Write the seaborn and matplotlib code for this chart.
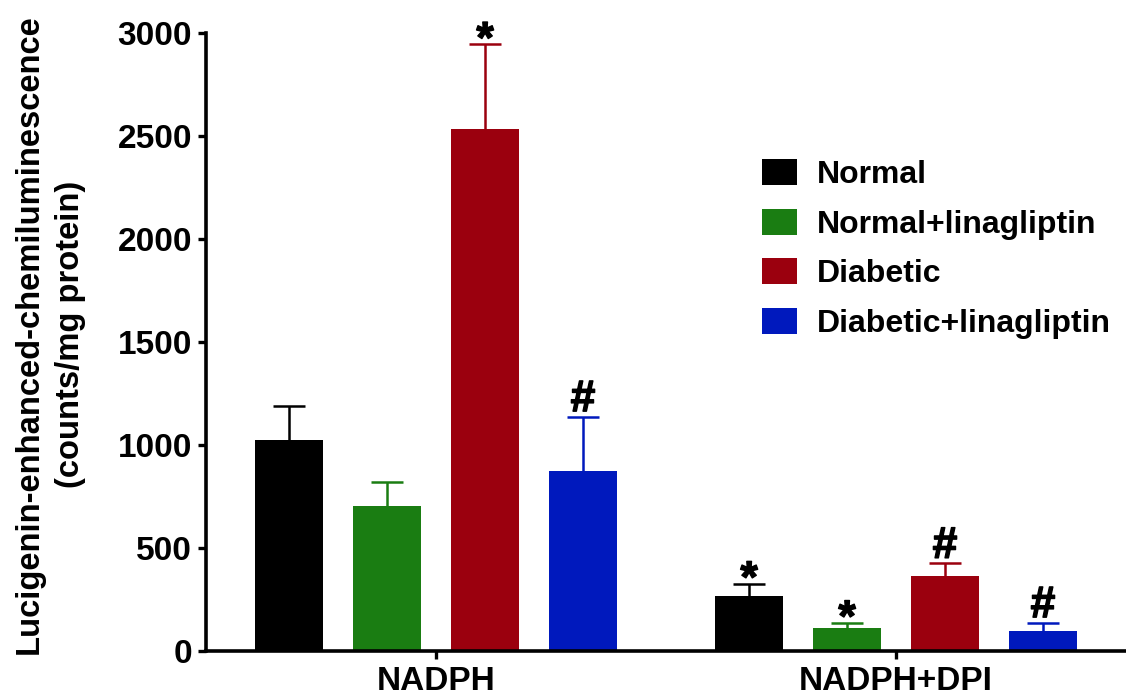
import numpy as np
import pandas as pd
import matplotlib
matplotlib.use("Agg")
import matplotlib.pyplot as plt
import matplotlib.patheffects as pe
import seaborn as sns

# data
conditions = ["NADPH", "NADPH+DPI"]
groups = ["Normal", "Normal+linagliptin", "Diabetic", "Diabetic+linagliptin"]
means = {
    "Normal": [1025, 265],
    "Normal+linagliptin": [705, 112],
    "Diabetic": [2535, 365],
    "Diabetic+linagliptin": [875, 95],
}
errors = {
    "Normal": [165, 62],
    "Normal+linagliptin": [115, 25],
    "Diabetic": [410, 60],
    "Diabetic+linagliptin": [262, 42],
}
marks = {
    "Normal": ["", "*"],
    "Normal+linagliptin": ["", "*"],
    "Diabetic": ["*", "#"],
    "Diabetic+linagliptin": ["#", "#"],
}
colors = ["#000000", "#1a7d12", "#9b000e", "#0019bd"]

rows = []
for g in groups:
    for c, v in zip(conditions, means[g]):
        rows.append({"condition": c, "group": g, "value": v})
df = pd.DataFrame(rows)

sns.set_style("ticks")
plt.rcParams["font.family"] = ["Liberation Sans", "DejaVu Sans"]
plt.rcParams["font.weight"] = "bold"
for k in ["text.color", "axes.labelcolor", "xtick.color", "ytick.color",
          "axes.edgecolor"]:
    plt.rcParams[k] = "black"

fig = plt.figure(figsize=(11.26, 6.96), dpi=100)
ax = fig.add_axes([0.183, 0.0647, 0.817, 0.888])

sns.barplot(data=df, x="condition", y="value", hue="group", order=conditions,
            hue_order=groups, palette=colors, saturation=1, width=0.852,
            gap=0.3, errorbar=None, linewidth=0, ax=ax)

# one-sided error bars + significance marks
for g, col, cont in zip(groups, colors, ax.containers):
    xs = [b.get_x() + b.get_width() / 2 for b in cont]
    ys = [b.get_height() for b in cont]
    err = errors[g]
    eb = ax.errorbar(xs, ys, yerr=[np.zeros(len(err)), err], fmt="none",
                     ecolor=col, elinewidth=1.8, capsize=11.5, capthick=1.8,
                     clip_on=False)
    eb[1][0].set_visible(False)  # no cap at the bar top
    for x, y, e, m in zip(xs, ys, err, marks[g]):
        if not m:
            continue
        off = -6 if m == "*" else 4
        ax.annotate(m, (x, y + e), xytext=(0, off), textcoords="offset points",
                    ha="center", va="baseline", fontsize=32,
                    fontweight="bold", annotation_clip=False,
                    path_effects=[pe.withStroke(linewidth=1.0, foreground="black")])

ax.set_xlim(-0.5, 1.5)
ax.set_ylim(0, 3000)
ax.set_yticks(range(0, 3001, 500))
ax.set_xlabel("")
ax.set_ylabel("Lucigenin-enhanced-chemiluminescence\n(counts/mg protein)",
              fontsize=23.6, fontweight="bold", linespacing=1.4)
ax.yaxis.set_label_coords(-0.131, 0.513)
ax.tick_params(axis="both", labelsize=24, width=2.4, length=6)
ax.tick_params(axis="x", pad=5)
ax.tick_params(axis="y", pad=4)
for lab in ax.get_xticklabels() + ax.get_yticklabels():
    lab.set_fontweight("bold")
sns.despine(ax=ax)
for s in ["left", "bottom"]:
    ax.spines[s].set_linewidth(2.6)

leg = ax.legend(loc="upper left", bbox_to_anchor=(762 / 1126, 1 - 159 / 696),
                bbox_transform=fig.transFigure, frameon=False, fontsize=23,
                handlelength=1.1, handleheight=0.88, handletextpad=0.62,
                labelspacing=0.58, borderpad=0, borderaxespad=0)
for t in leg.get_texts():
    t.set_fontweight("bold")

fig.savefig("out.png", dpi=100)
